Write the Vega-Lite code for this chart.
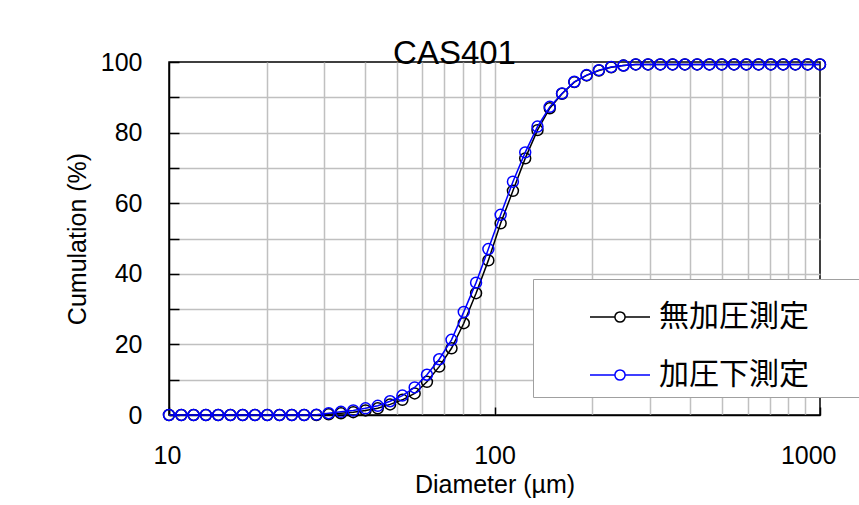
{
  "$schema": "https://vega.github.io/schema/vega-lite/v6.json",
  "autosize": "none",
  "width": 651,
  "height": 353,
  "padding": {"left": 169, "top": 62, "right": 39, "bottom": 90},
  "background": "white",
  "title": {"text": "CAS401", "font": "Liberation Sans", "fontSize": 33, "fontWeight": "normal", "color": "black", "anchor": "middle", "dx": -40, "dy": 39, "offset": -8, "baseline": "alphabetic"},
  "data": {"values": [
    {"s": "無加圧測定", "d": 10, "v": 0}, {"s": "無加圧測定", "d": 10.91, "v": 0}, {"s": "無加圧測定", "d": 11.9, "v": 0}, {"s": "無加圧測定", "d": 12.98, "v": 0},
    {"s": "無加圧測定", "d": 14.16, "v": 0}, {"s": "無加圧測定", "d": 15.44, "v": 0}, {"s": "無加圧測定", "d": 16.84, "v": 0}, {"s": "無加圧測定", "d": 18.37, "v": 0},
    {"s": "無加圧測定", "d": 20.04, "v": 0}, {"s": "無加圧測定", "d": 21.86, "v": 0}, {"s": "無加圧測定", "d": 23.84, "v": 0}, {"s": "無加圧測定", "d": 26.01, "v": 0},
    {"s": "無加圧測定", "d": 28.37, "v": 0}, {"s": "無加圧測定", "d": 30.94, "v": 0.2}, {"s": "無加圧測定", "d": 33.75, "v": 0.5}, {"s": "無加圧測定", "d": 36.82, "v": 0.8},
    {"s": "無加圧測定", "d": 40.16, "v": 1.3}, {"s": "無加圧測定", "d": 43.8, "v": 1.9}, {"s": "無加圧測定", "d": 47.78, "v": 3.0}, {"s": "無加圧測定", "d": 52.12, "v": 4.3},
    {"s": "無加圧測定", "d": 56.85, "v": 6.1}, {"s": "無加圧測定", "d": 62.01, "v": 9.4}, {"s": "無加圧測定", "d": 67.64, "v": 13.7}, {"s": "無加圧測定", "d": 73.78, "v": 18.9},
    {"s": "無加圧測定", "d": 80.47, "v": 26.0}, {"s": "無加圧測定", "d": 87.78, "v": 34.5}, {"s": "無加圧測定", "d": 95.75, "v": 43.8}, {"s": "無加圧測定", "d": 104.44, "v": 54.3},
    {"s": "無加圧測定", "d": 113.92, "v": 63.5}, {"s": "無加圧測定", "d": 124.27, "v": 72.7}, {"s": "無加圧測定", "d": 135.54, "v": 80.7}, {"s": "無加圧測定", "d": 147.84, "v": 86.9},
    {"s": "無加圧測定", "d": 161.26, "v": 91.0}, {"s": "無加圧測定", "d": 175.9, "v": 94.3}, {"s": "無加圧測定", "d": 191.87, "v": 96.2}, {"s": "無加圧測定", "d": 209.29, "v": 97.6},
    {"s": "無加圧測定", "d": 228.31, "v": 98.5}, {"s": "無加圧測定", "d": 249.0, "v": 99.0}, {"s": "無加圧測定", "d": 271.59, "v": 99.3}, {"s": "無加圧測定", "d": 296.3, "v": 99.3},
    {"s": "無加圧測定", "d": 323.21, "v": 99.3}, {"s": "無加圧測定", "d": 352.48, "v": 99.3}, {"s": "無加圧測定", "d": 384.47, "v": 99.3}, {"s": "無加圧測定", "d": 419.46, "v": 99.3},
    {"s": "無加圧測定", "d": 457.46, "v": 99.3}, {"s": "無加圧測定", "d": 499.0, "v": 99.3}, {"s": "無加圧測定", "d": 544.37, "v": 99.3}, {"s": "無加圧測定", "d": 593.82, "v": 99.3},
    {"s": "無加圧測定", "d": 647.67, "v": 99.3}, {"s": "無加圧測定", "d": 706.21, "v": 99.3}, {"s": "無加圧測定", "d": 770.42, "v": 99.3}, {"s": "無加圧測定", "d": 840.34, "v": 99.3},
    {"s": "無加圧測定", "d": 916.59, "v": 99.3}, {"s": "無加圧測定", "d": 1000, "v": 99.3},
    {"s": "加圧下測定", "d": 10, "v": 0}, {"s": "加圧下測定", "d": 10.91, "v": 0}, {"s": "加圧下測定", "d": 11.9, "v": 0}, {"s": "加圧下測定", "d": 12.98, "v": 0},
    {"s": "加圧下測定", "d": 14.16, "v": 0}, {"s": "加圧下測定", "d": 15.44, "v": 0}, {"s": "加圧下測定", "d": 16.84, "v": 0}, {"s": "加圧下測定", "d": 18.37, "v": 0},
    {"s": "加圧下測定", "d": 20.04, "v": 0}, {"s": "加圧下測定", "d": 21.86, "v": 0}, {"s": "加圧下測定", "d": 23.84, "v": 0}, {"s": "加圧下測定", "d": 26.01, "v": 0},
    {"s": "加圧下測定", "d": 28.37, "v": 0.1}, {"s": "加圧下測定", "d": 30.94, "v": 0.5}, {"s": "加圧下測定", "d": 33.75, "v": 0.9}, {"s": "加圧下測定", "d": 36.82, "v": 1.3},
    {"s": "加圧下測定", "d": 40.16, "v": 1.9}, {"s": "加圧下測定", "d": 43.8, "v": 2.6}, {"s": "加圧下測定", "d": 47.78, "v": 3.9}, {"s": "加圧下測定", "d": 52.12, "v": 5.5},
    {"s": "加圧下測定", "d": 56.85, "v": 7.8}, {"s": "加圧下測定", "d": 62.01, "v": 11.4}, {"s": "加圧下測定", "d": 67.64, "v": 15.8}, {"s": "加圧下測定", "d": 73.78, "v": 21.3},
    {"s": "加圧下測定", "d": 80.47, "v": 29.2}, {"s": "加圧下測定", "d": 87.78, "v": 37.5}, {"s": "加圧下測定", "d": 95.75, "v": 47.0}, {"s": "加圧下測定", "d": 104.44, "v": 56.7},
    {"s": "加圧下測定", "d": 113.92, "v": 66.1}, {"s": "加圧下測定", "d": 124.27, "v": 74.4}, {"s": "加圧下測定", "d": 135.54, "v": 81.7}, {"s": "加圧下測定", "d": 147.84, "v": 87.3},
    {"s": "加圧下測定", "d": 161.26, "v": 91.1}, {"s": "加圧下測定", "d": 175.9, "v": 94.4}, {"s": "加圧下測定", "d": 191.87, "v": 96.3}, {"s": "加圧下測定", "d": 209.29, "v": 97.7},
    {"s": "加圧下測定", "d": 228.31, "v": 98.6}, {"s": "加圧下測定", "d": 249.0, "v": 99.0}, {"s": "加圧下測定", "d": 271.59, "v": 99.3}, {"s": "加圧下測定", "d": 296.3, "v": 99.3},
    {"s": "加圧下測定", "d": 323.21, "v": 99.3}, {"s": "加圧下測定", "d": 352.48, "v": 99.3}, {"s": "加圧下測定", "d": 384.47, "v": 99.3}, {"s": "加圧下測定", "d": 419.46, "v": 99.3},
    {"s": "加圧下測定", "d": 457.46, "v": 99.3}, {"s": "加圧下測定", "d": 499.0, "v": 99.3}, {"s": "加圧下測定", "d": 544.37, "v": 99.3}, {"s": "加圧下測定", "d": 593.82, "v": 99.3},
    {"s": "加圧下測定", "d": 647.67, "v": 99.3}, {"s": "加圧下測定", "d": 706.21, "v": 99.3}, {"s": "加圧下測定", "d": 770.42, "v": 99.3}, {"s": "加圧下測定", "d": 840.34, "v": 99.3},
    {"s": "加圧下測定", "d": 916.59, "v": 99.3}, {"s": "加圧下測定", "d": 1000, "v": 99.3}
  ]},
  "encoding": {
    "x": {
      "field": "d", "type": "quantitative",
      "scale": {"type": "log", "domain": [10, 1000], "nice": false},
      "axis": {
        "values": [10, 20, 30, 40, 50, 60, 70, 80, 90, 100, 200, 300, 400, 500, 600, 700, 800, 900, 1000],
        "format": "d",
        "labelExpr": "(datum.value == 10 || datum.value == 100 || datum.value == 1000) ? datum.label : ''",
        "labelOverlap": false,
        "grid": true,
        "gridColor": {"condition": {"test": "datum.value == 10 || datum.value == 1000", "value": "transparent"}, "value": "#c0c0c0"},
        "gridWidth": 1.5,
        "tickColor": {"condition": {"test": "datum.value == 10 || datum.value == 100 || datum.value == 1000", "value": "black"}, "value": "transparent"},
        "tickSize": -8, "tickWidth": 1.5,
        "domainColor": "black", "domainWidth": 1.5,
        "labelFont": "Liberation Sans", "labelFontSize": 25, "labelColor": "black", "labelPadding": 36,
        "labelFlush": true, "labelFlushOffset": 16,
        "title": "Diameter (µm)", "titleFont": "Liberation Sans", "titleFontSize": 25, "titleFontWeight": "normal", "titleColor": "black", "titlePadding": 4
      }
    },
    "y": {
      "field": "v", "type": "quantitative",
      "scale": {"domain": [0, 100], "nice": false},
      "axis": {
        "values": [0, 10, 20, 30, 40, 50, 60, 70, 80, 90, 100],
        "labelExpr": "datum.value % 20 == 0 ? datum.label : ''",
        "grid": true,
        "gridColor": {"condition": {"test": "datum.value == 0 || datum.value == 100", "value": "transparent"}, "value": "#c0c0c0"},
        "gridWidth": 1.5,
        "tickColor": "black", "tickSize": -10, "tickWidth": 1.5,
        "domainColor": "black", "domainWidth": 1.5,
        "labelFont": "Liberation Sans", "labelFontSize": 25, "labelColor": "black", "labelPadding": 37,
        "title": "Cumulation (%)", "titleFont": "Liberation Sans", "titleFontSize": 25, "titleFontWeight": "normal", "titleColor": "black", "titlePadding": 10
      }
    },
    "color": {
      "field": "s", "type": "nominal",
      "scale": {"domain": ["無加圧測定", "加圧下測定"], "range": ["#000000", "#0000ff"]},
      "legend": {
        "title": "\u3000", "titleOrient": "left", "titleFont": "Noto Sans CJK JP", "titleFontSize": 20, "titlePadding": 49, "titleColor": "transparent",
        "orient": "none", "legendX": 364, "legendY": 217, "padding": 7,
        "fillColor": "white", "strokeColor": "#a0a0a0", "cornerRadius": 0,
        "symbolType": "M9.5,0M-1,0H-0.17M0.17,0H1M-0.17,0A0.17,0.17,0,1,1,0.17,0A0.17,0.17,0,1,1,-0.17,0",
        "symbolSize": 3600, "symbolStrokeWidth": 1.5, "symbolFillColor": "transparent",
        "labelFont": "Noto Sans CJK JP", "labelFontSize": 30, "labelColor": "black", "labelOffset": 8, "labelLimit": 0,
        "rowPadding": 12
      }
    }
  },
  "layer": [
    {"transform": [{"filter": "datum.s == '無加圧測定'"}], "mark": {"type": "line", "strokeWidth": 1.5}},
    {"transform": [{"filter": "datum.s == '無加圧測定'"}], "mark": {"type": "point", "filled": false, "size": 120, "strokeWidth": 1.5, "opacity": 1}},
    {"transform": [{"filter": "datum.s == '加圧下測定'"}], "mark": {"type": "line", "strokeWidth": 1.5}},
    {"transform": [{"filter": "datum.s == '加圧下測定'"}], "mark": {"type": "point", "filled": false, "size": 120, "strokeWidth": 1.5, "opacity": 1}}
  ],
  "config": {
    "view": {"stroke": "black", "strokeWidth": 1.5}
  }
}
